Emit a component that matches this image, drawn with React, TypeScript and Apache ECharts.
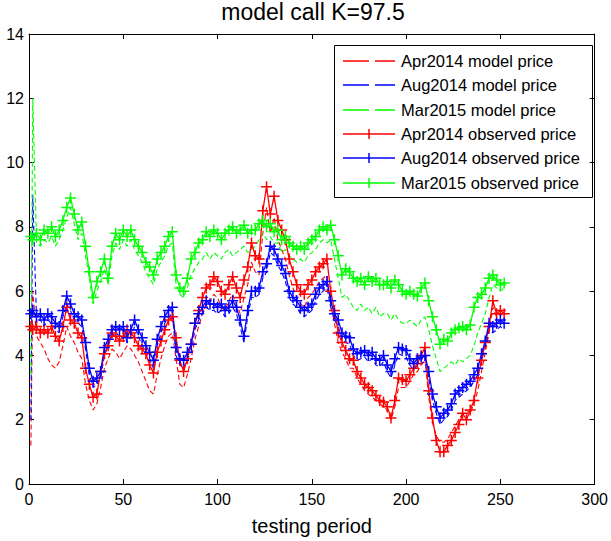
import React, { useEffect, useRef } from "react";
import * as echarts from "echarts";

// sampling grid of the testing period (days)
const days: number[] = [1, 2, ...Array.from({ length: 125 }, (_, i) => 4 + 2 * i)];

// model prices (dashed)
const apr2014Model = [
  1.2, 6.0, 4.6, 4.4, 4.2, 3.9, 3.7, 3.6, 3.8, 4.3,
  4.9, 4.6, 4.4, 4.1, 3.9, 3.1, 2.6, 2.3, 2.5, 3.0,
  3.6, 3.9, 4.2, 4.1, 3.9, 4.1, 4.3, 4.2, 4.0, 3.8,
  3.5, 3.2, 2.9, 2.8, 3.4, 3.9, 4.3, 4.6, 4.7, 3.9,
  3.1, 3.0, 3.4, 3.9, 4.5, 4.9, 5.3, 5.6, 5.7, 5.9,
  5.8, 5.5, 5.4, 5.7, 5.9, 5.6, 5.3, 5.8, 6.2, 6.9,
  6.6, 6.5, 7.8, 8.6, 7.8, 8.3, 7.6, 7.3, 7.0, 6.5,
  6.1, 5.8, 5.6, 5.5, 5.8, 5.9, 6.1, 6.3, 6.4, 6.5,
  5.6, 5.0, 4.4, 4.1, 3.9, 3.6, 3.6, 3.3, 3.1, 2.9,
  2.8, 2.7, 2.6, 2.5, 2.4, 2.3, 2.0, 2.4, 3.0, 3.0,
  3.0, 3.2, 3.4, 3.5, 3.7, 3.9, 2.7, 1.9, 1.5, 1.3,
  1.3, 1.4, 1.6, 1.8, 2.0, 2.2, 2.3, 2.2, 2.5, 2.9,
  3.5, 4.1, 4.7, 5.5, 5.2, 5.3, 5.2,
];
const aug2014Model = [
  2.0, 9.0, 5.1, 5.1, 4.9, 5.1, 5.0, 4.8, 4.7, 5.2,
  5.6, 5.4, 5.1, 5.0, 4.9, 4.2, 3.4, 3.0, 3.1, 3.3,
  4.0, 4.3, 4.6, 4.7, 4.6, 4.7, 4.4, 4.6, 4.9, 4.6,
  4.3, 4.1, 3.9, 3.6, 4.3, 4.7, 5.0, 5.2, 5.3, 4.0,
  3.7, 3.6, 3.9, 4.1, 4.8, 5.1, 5.3, 5.5, 5.4, 5.4,
  5.3, 5.4, 5.2, 5.3, 5.5, 5.3, 4.9, 4.4, 5.2, 5.8,
  5.8, 5.9, 6.4, 6.6, 7.2, 7.1, 6.8, 6.6, 6.3, 5.8,
  5.6, 5.5, 5.3, 5.2, 5.3, 5.4, 5.7, 5.9, 6.0, 6.1,
  5.5, 5.1, 4.9, 4.5, 4.4, 4.35, 4.0, 3.85, 3.9, 3.95,
  3.8, 3.9, 3.7, 3.65, 3.8, 3.5, 3.3, 3.7, 4.05, 4.0,
  3.95, 3.7, 3.55, 3.7, 3.75, 3.8, 3.3, 2.6, 2.2, 1.85,
  2.0, 2.1, 2.3, 2.6, 2.7, 2.8, 2.9, 3.0, 3.2, 3.4,
  3.85, 4.25, 4.8, 4.7, 4.8, 4.9, 4.8,
];
const mar2015Model = [
  3.4, 12.0, 7.5, 7.4, 7.6, 7.5, 7.7, 7.4, 7.6, 7.9,
  8.3, 8.6, 8.1, 7.6, 7.8, 7.1, 6.4, 5.6, 6.0, 6.3,
  6.7, 6.2, 7.1, 7.5, 7.3, 7.6, 7.4, 7.6, 7.3, 7.1,
  6.9, 6.6, 6.4, 6.2, 6.7, 6.9, 7.1, 7.4, 7.5, 6.2,
  5.9, 5.8, 6.1, 6.5, 6.7, 6.9, 7.0, 7.2, 7.0, 7.2,
  7.1, 7.0, 7.2, 7.3, 7.1, 7.2, 7.3, 7.4, 7.2, 7.3,
  7.4, 7.6, 7.8, 7.6, 7.7, 7.5, 7.5, 7.2, 7.3, 7.1,
  7.0, 6.9, 7.0, 6.9, 7.1, 7.2, 7.3, 7.5, 7.6, 7.5,
  7.6, 7.0, 6.4, 5.8, 5.9, 5.7, 5.5, 5.4, 5.6, 5.4,
  5.5, 5.3, 5.5, 5.2, 5.3, 5.3, 5.1, 5.3, 5.1, 5.0,
  5.0, 5.1, 5.0, 4.9, 5.1, 5.2, 4.8, 4.3, 3.9, 3.5,
  3.6, 3.7, 3.8, 3.7, 3.9, 3.8, 3.9, 4.0, 4.3, 4.7,
  5.0, 5.3, 5.8, 6.2, 6.1, 6.0, 6.1,
];

// observed prices (solid with + markers)
const apr2014Observed = [
  4.9, 4.8, 4.9, 4.7, 4.8, 4.7, 4.9, 4.6, 4.45, 4.9,
  5.5, 5.1, 5.0, 4.7, 4.55, 3.6, 3.1, 2.7, 2.8, 3.5,
  4.05, 4.3, 4.7, 4.6, 4.45, 4.6, 4.8, 4.7, 4.55, 4.3,
  4.2, 4.05, 3.7, 3.45, 4.1, 4.45, 4.8, 5.1, 5.2, 4.55,
  3.85, 3.5, 3.9, 4.35, 5.0, 5.4, 5.8, 6.1, 6.2, 6.45,
  6.3, 6.0, 5.9, 6.2, 6.45, 6.1, 5.8, 6.35, 6.75, 7.5,
  7.1, 7.0, 8.5, 9.25, 8.4, 8.95, 8.2, 7.9, 7.6, 7.0,
  6.6, 6.2, 6.0, 5.9, 6.2, 6.35, 6.6, 6.75, 6.85, 7.0,
  6.0, 5.4, 4.7, 4.4, 4.15, 3.9, 3.85, 3.5, 3.3, 3.1,
  3.0, 2.9, 2.75, 2.6, 2.55, 2.4, 2.05, 2.6, 3.3, 3.25,
  3.2, 3.4, 3.6, 3.75, 4.0, 4.25, 2.9, 2.05, 1.35, 1.0,
  1.0, 1.2, 1.35, 1.6, 1.85, 2.2, 2.0, 2.3, 2.6, 3.3,
  3.85, 4.4, 4.9, 5.7, 5.3, 5.4, 5.3,
];
const aug2014Observed = [
  5.3, 5.4, 5.2, 5.3, 5.1, 5.3, 5.2, 5.0, 4.9, 5.4,
  5.85, 5.6, 5.3, 5.2, 5.1, 4.4, 3.6, 3.2, 3.3, 3.5,
  4.25, 4.5, 4.8, 4.9, 4.8, 4.9, 4.55, 4.8, 5.1, 4.8,
  4.55, 4.3, 4.1, 3.85, 4.5, 4.9, 5.2, 5.4, 5.5, 4.25,
  3.9, 3.85, 4.1, 4.35, 5.0, 5.3, 5.5, 5.7, 5.6, 5.6,
  5.5, 5.6, 5.4, 5.5, 5.7, 5.5, 5.1, 4.6, 5.4, 6.0,
  6.0, 6.1, 6.6, 6.85, 7.4, 7.3, 7.0, 6.8, 6.55, 6.0,
  5.8, 5.7, 5.5, 5.4, 5.5, 5.6, 5.9, 6.1, 6.2, 6.3,
  5.7, 5.3, 5.1, 4.7, 4.6, 4.55, 4.2, 4.05, 4.1, 4.15,
  4.0, 4.1, 3.9, 3.85, 4.0, 3.7, 3.5, 3.9, 4.25, 4.2,
  4.15, 3.9, 3.75, 3.9, 3.95, 4.0, 3.5, 2.8, 2.4, 2.05,
  2.2, 2.3, 2.5, 2.8, 2.9, 3.0, 3.1, 3.2, 3.4, 3.6,
  4.05, 4.45, 5.0, 4.9, 5.0, 5.1, 5.0,
];
const mar2015Observed = [
  7.7, 7.6, 7.8, 7.6, 7.9, 7.8, 8.0, 7.7, 7.9, 8.2,
  8.6, 8.9, 8.4, 7.9, 8.15, 7.4, 6.6, 5.8, 6.3, 6.6,
  7.0, 6.4, 7.4, 7.8, 7.6, 7.9, 7.7, 7.9, 7.6, 7.4,
  7.2, 6.9, 6.75, 6.5, 7.0, 7.2, 7.4, 7.7, 7.85, 6.5,
  6.1, 6.0, 6.4, 7.0, 7.2, 7.5, 7.6, 7.85, 7.7, 7.9,
  7.8, 7.6, 7.8, 7.9, 8.0, 7.8, 7.9, 8.05, 7.8, 7.9,
  7.9, 8.1, 8.2, 8.0, 8.1, 7.85, 7.9, 7.6, 7.7, 7.5,
  7.4, 7.3, 7.4, 7.3, 7.5, 7.6, 7.7, 7.9, 8.0, 7.9,
  8.05, 7.6, 7.1, 6.5, 6.7, 6.6, 6.4, 6.3, 6.4, 6.2,
  6.45, 6.3, 6.4, 6.2, 6.2, 6.3, 6.1, 6.35, 6.2, 6.0,
  5.9, 6.0, 5.9, 5.85, 6.1, 6.25, 5.7, 5.2, 4.8, 4.35,
  4.5, 4.45, 4.7, 4.8, 4.85, 4.9, 4.8, 4.95, 5.5, 5.8,
  5.9, 6.1, 6.4, 6.5, 6.35, 6.2, 6.25,
];

const modelNames = ["Apr2014 model price", "Aug2014 model price", "Mar2015 model price"];
const observedNames = ["Apr2014 observed price", "Aug2014 observed price", "Mar2015 observed price"];
const colors = ["#ff0000", "#0000ff", "#00ff00"];
const titleText = "model call K=97.5";
const xLabel = "testing period";

const FONT = "'Liberation Sans', Arial, sans-serif";
const PLUS = "path://M5,0L5,10M0,5L10,5";

function toPairs(vals: number[]) {
  return days.map((d, i) => [d, vals[i]]);
}

function buildLegend() {
  const boxX = 334.5;
  const boxY = 45.5;
  const boxW = 258;
  const boxH = 152;
  const rowY0 = 60.7;
  const rowGap = 24.4;
  const lineX1 = 343;
  const lineX2 = 395;
  const textX = 401;
  const children: any[] = [
    {
      type: "rect",
      shape: { x: boxX, y: boxY, width: boxW, height: boxH },
      style: { fill: "#fff", stroke: "#000", lineWidth: 1 },
    },
  ];
  const entries = [
    ...modelNames.map((n, i) => ({ name: n, color: colors[i], dashed: true })),
    ...observedNames.map((n, i) => ({ name: n, color: colors[i], dashed: false })),
  ];
  entries.forEach((e, k) => {
    const y = Math.round(rowY0 + k * rowGap);
    if (e.dashed) {
      children.push({
        type: "line",
        shape: { x1: lineX1, y1: y, x2: lineX1 + 26, y2: y },
        style: { stroke: e.color, lineWidth: 1.5 },
      });
      children.push({
        type: "line",
        shape: { x1: lineX1 + 32, y1: y, x2: lineX2, y2: y },
        style: { stroke: e.color, lineWidth: 1.5 },
      });
    } else {
      const cx = (lineX1 + lineX2) / 2;
      children.push({
        type: "line",
        shape: { x1: lineX1, y1: y, x2: lineX2, y2: y },
        style: { stroke: e.color, lineWidth: 1.5 },
      });
      children.push({
        type: "line",
        shape: { x1: cx, y1: y - 5, x2: cx, y2: y + 5 },
        style: { stroke: e.color, lineWidth: 1.5 },
      });
    }
    children.push({
      type: "text",
      x: textX,
      y: y,
      style: {
        text: e.name,
        fill: "#000",
        fontSize: 16.5,
        fontFamily: FONT,
        align: "left",
        verticalAlign: "middle",
      },
    });
  });
  return [{ type: "group", z: 100, children }];
}

export default function App() {
  const ref = useRef<HTMLDivElement>(null);
  useEffect(() => {
    document.body.style.margin = "0";
    if (!ref.current) return;
    const chart = echarts.init(ref.current, undefined, { renderer: "svg" });
    const models = [apr2014Model, aug2014Model, mar2015Model];
    const observed = [apr2014Observed, aug2014Observed, mar2015Observed];

    const axisCommon = {
      axisLine: { show: true, onZero: false, lineStyle: { color: "#000", width: 1 } },
      axisTick: { show: true, inside: true, length: 5, lineStyle: { color: "#000", width: 1 } },
      splitLine: { show: false },
    };

    const series: any[] = [];
    models.forEach((m, i) => {
      series.push({
        name: modelNames[i],
        type: "line",
        data: toPairs(m),
        symbol: "none",
        showSymbol: false,
        itemStyle: { color: colors[i] },
        lineStyle: { color: colors[i], width: 1.1, type: [5, 3] },
        z: 2,
      });
    });
    observed.forEach((o, i) => {
      series.push({
        name: observedNames[i],
        type: "line",
        data: toPairs(o),
        symbol: PLUS,
        symbolSize: 11,
        showAllSymbol: true,
        itemStyle: { color: colors[i], borderColor: colors[i], borderWidth: 1.5 },
        lineStyle: { color: colors[i], width: 1.3 },
        z: 3,
      });
    });

    chart.setOption({
      animation: false,
      backgroundColor: "#fff",
      title: {
        text: titleText,
        left: 313,
        top: 0,
        textAlign: "center",
        padding: 0,
        textStyle: { fontSize: 23, fontWeight: "normal", color: "#000", fontFamily: FONT },
      },
      grid: { left: 29, right: 12, top: 34, bottom: 57, containLabel: false },
      xAxis: [
        {
          type: "value",
          min: 0,
          max: 300,
          interval: 50,
          position: "bottom",
          ...axisCommon,
          axisLabel: { color: "#000", fontSize: 16, margin: 7, fontFamily: FONT },
          name: xLabel,
          nameLocation: "middle",
          nameGap: 32,
          nameTextStyle: { fontSize: 20, color: "#000", fontFamily: FONT },
        },
        {
          type: "value",
          min: 0,
          max: 300,
          interval: 50,
          position: "top",
          ...axisCommon,
          axisLabel: { show: false },
        },
      ],
      yAxis: [
        {
          type: "value",
          min: 0,
          max: 14,
          interval: 2,
          position: "left",
          ...axisCommon,
          axisLabel: { color: "#000", fontSize: 16, margin: 5, fontFamily: FONT },
        },
        {
          type: "value",
          min: 0,
          max: 14,
          interval: 2,
          position: "right",
          ...axisCommon,
          axisLabel: { show: false },
        },
      ],
      graphic: buildLegend(),
      series,
    });
    return () => chart.dispose();
  }, []);
  return <div ref={ref} style={{ width: 611, height: 541 }} />;
}
